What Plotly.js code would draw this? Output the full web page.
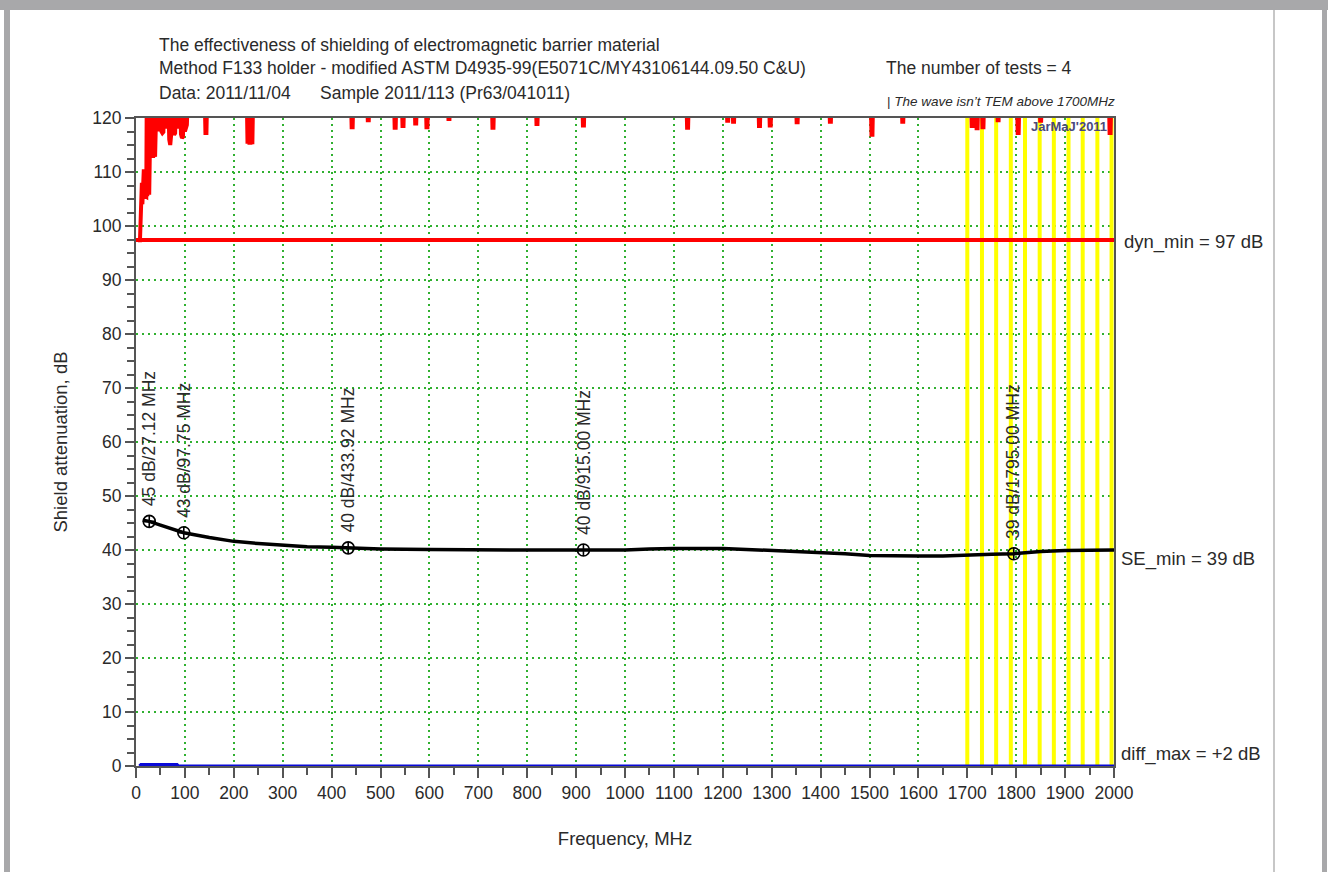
<!DOCTYPE html>
<html><head><meta charset="utf-8">
<script src="https://cdn.plot.ly/plotly-3.0.1.min.js"></script>
<style>html,body{margin:0;padding:0;background:#fff;} #chart{width:1328px;height:872px;}</style>
</head><body><div id="chart"></div>
<script>
// ---- data ----
const seFreq = [14, 27.12, 50, 97.75, 150, 200, 250, 300, 350, 400, 433.92, 500, 600, 700, 800, 915, 1000, 1050, 1100, 1200, 1250, 1300, 1350, 1400, 1450, 1500, 1550, 1600, 1650, 1700, 1750, 1795, 1850, 1900, 2000];
const seDb   = [45.5, 45.3, 44.6, 43.2, 42.3, 41.6, 41.2, 40.9, 40.6, 40.5, 40.4, 40.2, 40.1, 40.0, 40.0, 40.0, 40.0, 40.2, 40.3, 40.3, 40.1, 40.0, 39.7, 39.5, 39.3, 39.0, 38.9, 38.9, 38.9, 39.1, 39.2, 39.3, 39.7, 39.9, 40.0];

const markFreq   = [27.12, 97.75, 433.92, 915.00, 1795.00];
const markDb     = [45.3, 43.2, 40.4, 40.0, 39.3];
const markLabels = ["45 dB/27.12 MHz", "43 dB/97.75 MHz", "40 dB/433.92 MHz", "40 dB/915.00 MHz", "39 dB/1795.00 MHz"];

const redLowFreq = [8, 9, 10, 11, 12, 13, 14, 15, 16, 17, 18, 19, 20, 21, 22, 23, 24, 25, 26, 27, 28, 29, 30, 31, 32, 33, 34, 35, 36, 37, 38, 39, 40, 41, 42,
  44, 46, 48, 50, 52, 54, 56, 58, 60, 62, 64, 66, 68, 70, 72, 74, 76, 78, 80, 82, 84, 86, 88, 90, 92, 94, 96, 98, 100, 102, 104, 106];
const redLowDb = [97, 101, 103, 104, 108, 104, 110, 105, 110.5, 106, 110, 105.5, 124, 105.4, 124, 105.5, 124, 106, 124, 105.8, 124, 107, 124, 112.6, 124, 112.8, 124, 112.6, 124, 113, 124, 112.8, 124, 114, 124,
  117.5, 124, 118, 124, 117.5, 117.2, 117.4, 124, 118, 124, 118.5, 124, 116, 115, 117, 124, 117.5, 116.9, 117.2, 124, 118.5, 124, 118, 124, 117, 116.3, 116.5, 124, 117.5, 118.7, 118.7, 124];

const spikeFreq = [143, 229, 233, 237, 442, 475, 530, 546, 572, 595, 640, 730, 820, 915, 1128, 1210, 1222, 1275, 1297, 1352, 1420, 1505, 1568, 1710, 1720, 1732, 1763, 1804, 1850, 1992];
const spikeDb   = [117.2, 115.6, 115.4, 115.5, 118.3, 119.6, 118.2, 118.5, 119.0, 118.3, 119.8, 118.2, 118.9, 118.6, 118.2, 119.5, 119.3, 118.5, 118.6, 119.2, 119.3, 116.9, 119.3, 118.5, 118.1, 118.3, 119.6, 117.2, 119.5, 117.2];
const offTop = 124; // dynamic range above the visible scale

const blueFreq = [7, 10, 84, 87, 2000];
const blueDb   = [0, 0.3, 0.3, 0, 0];

const dynMin = 97.4;
const yellowFreq = [1700, 1730, 1759, 1789, 1818, 1848, 1877, 1907, 1936, 1966, 1995];

const xTicks = [0,100,200,300,400,500,600,700,800,900,1000,1100,1200,1300,1400,1500,1600,1700,1800,1900,2000];
const yTicks = [0,10,20,30,40,50,60,70,80,90,100,110,120];

// ---- geometry helpers for text placement (pixels -> paper) ----
const L = 136, R = 1114, T = 118, B = 766;
const W = 1328, H = 872;
const px = x => (x - L) / (R - L);
const py = y => (B - y) / (B - T);

// ---- build traces ----
const yx = [], yy = [];
yellowFreq.forEach(f => { yx.push(f, f, null); yy.push(0, 120, null); });

const rx = redLowFreq.slice(), ry = redLowDb.slice();
spikeFreq.forEach((f, i) => {
  rx.push(f - 2.5, f - 1, f + 1, f + 2.5);
  ry.push(offTop, spikeDb[i], spikeDb[i], offTop);
});
rx.push(2000); ry.push(offTop);

const FONT = 'Liberation Sans, Arial, sans-serif';
const TXT = '#2a2a2a';
const FS = 17.5;

const traces = [
  {x: yx, y: yy, mode: 'lines', line: {color: '#ffff00', width: 4}, hoverinfo: 'skip'},
  {x: [0, 2000], y: [dynMin, dynMin], mode: 'lines', line: {color: '#ff0000', width: 4}},
  {x: rx, y: ry, mode: 'lines', line: {color: '#ff0000', width: 4}},
  {x: blueFreq, y: blueDb, mode: 'lines', line: {color: '#0a0ad8', width: 3}},
  {x: seFreq, y: seDb, mode: 'lines', line: {color: '#000000', width: 3.5}},
  {x: markFreq, y: markDb, mode: 'markers', marker: {symbol: 'circle-cross-open', size: 12, color: '#000', line: {width: 1.6, color: '#000'}}}
];

const ann = [];
markFreq.forEach((f, i) => ann.push({
  x: f, y: markDb[i], xref: 'x', yref: 'y', text: markLabels[i], textangle: -90,
  showarrow: false, xanchor: 'center', yanchor: 'bottom', yshift: 13,
  font: {family: FONT, size: FS, color: TXT}
}));
const txt = (text, x, y, opts = {}) => ann.push(Object.assign({
  text, x: px(x), y: py(y), xref: 'paper', yref: 'paper', showarrow: false,
  xanchor: 'left', yanchor: 'middle', font: {family: FONT, size: FS, color: TXT}
}, opts));
txt('The effectiveness of shielding of electromagnetic barrier material', 157, 45);
txt('Method F133 holder - modified ASTM D4935-99(E5071C/MY43106144.09.50 C&amp;U)', 157, 68);
txt('The number of tests = 4', 884, 68);
txt('Data: 2011/11/04', 157, 93);
txt('Sample 2011/113 (Pr63/041011)', 318, 93);
txt('| <i>The wave isn’t TEM above 1700MHz</i>', 885, 102, {font: {family: FONT, size: 13.5, color: TXT}});
txt("JarMaJ'2011", 1109, 127, {xanchor: 'right', font: {family: FONT, size: 13, color: '#4a4a7c', weight: 'bold'}});
txt('dyn_min = 97 dB', 1122, 242, {font: {family: FONT, size: 18.5, color: TXT}});
txt('SE_min = 39 dB', 1119, 559, {font: {family: FONT, size: 18.5, color: TXT}});
txt('diff_max = +2 dB', 1119, 754, {font: {family: FONT, size: 18.5, color: TXT}});

const G = '#555555';
const frame = [
  {x0: 0, x1: W, y0: 0, y1: 10},
  {x0: 4, x1: 10, y0: 0, y1: H},
  {x0: 1322, x1: 1327, y0: 0, y1: H}
].map(r => ({type: 'rect', xref: 'paper', yref: 'paper', x0: px(r.x0), x1: px(r.x1), y0: py(r.y1), y1: py(r.y0),
  fillcolor: '#a8a8aa', line: {width: 0}, layer: 'above'}));
frame.push({type: 'line', xref: 'paper', yref: 'paper', x0: px(1274), x1: px(1274), y0: py(H), y1: py(10), line: {color: '#b4b4b4', width: 1.5}});

const axisCommon = {
  showline: true, linecolor: G, linewidth: 2, mirror: true,
  ticks: 'outside', tickcolor: G, tickwidth: 2,
  showgrid: true, gridcolor: '#30b030', gridwidth: 2, griddash: '2px,4px',
  zeroline: false, layer: 'below traces',
  tickfont: {family: FONT, size: FS, color: TXT}
};

const layout = {
  width: W, height: H, showlegend: false,
  paper_bgcolor: '#fff', plot_bgcolor: '#fff',
  margin: {l: L, r: W - R, t: T, b: H - B, pad: 0},
  font: {family: FONT, color: TXT},
  xaxis: Object.assign({}, axisCommon, {
    range: [0, 2000], tickvals: xTicks, ticklen: 10,
    minor: {dtick: 50, ticks: 'outside', ticklen: 7, tickcolor: G, tickwidth: 2, showgrid: false},
    title: {text: 'Frequency, MHz', font: {family: FONT, size: 18.5, color: TXT}, standoff: 30}
  }),
  yaxis: Object.assign({}, axisCommon, {
    range: [0, 120], tickvals: yTicks, ticklen: 9,
    minor: {dtick: 2.5, ticks: 'outside', ticklen: 7, tickcolor: G, tickwidth: 2, showgrid: false},
    title: {text: 'Shield attenuation, dB', font: {family: FONT, size: 18.5, color: TXT}, standoff: 20}
  }),
  annotations: ann,
  shapes: frame
};

Plotly.newPlot('chart', traces, layout, {staticPlot: true, displayModeBar: false});
</script>
</body></html>
